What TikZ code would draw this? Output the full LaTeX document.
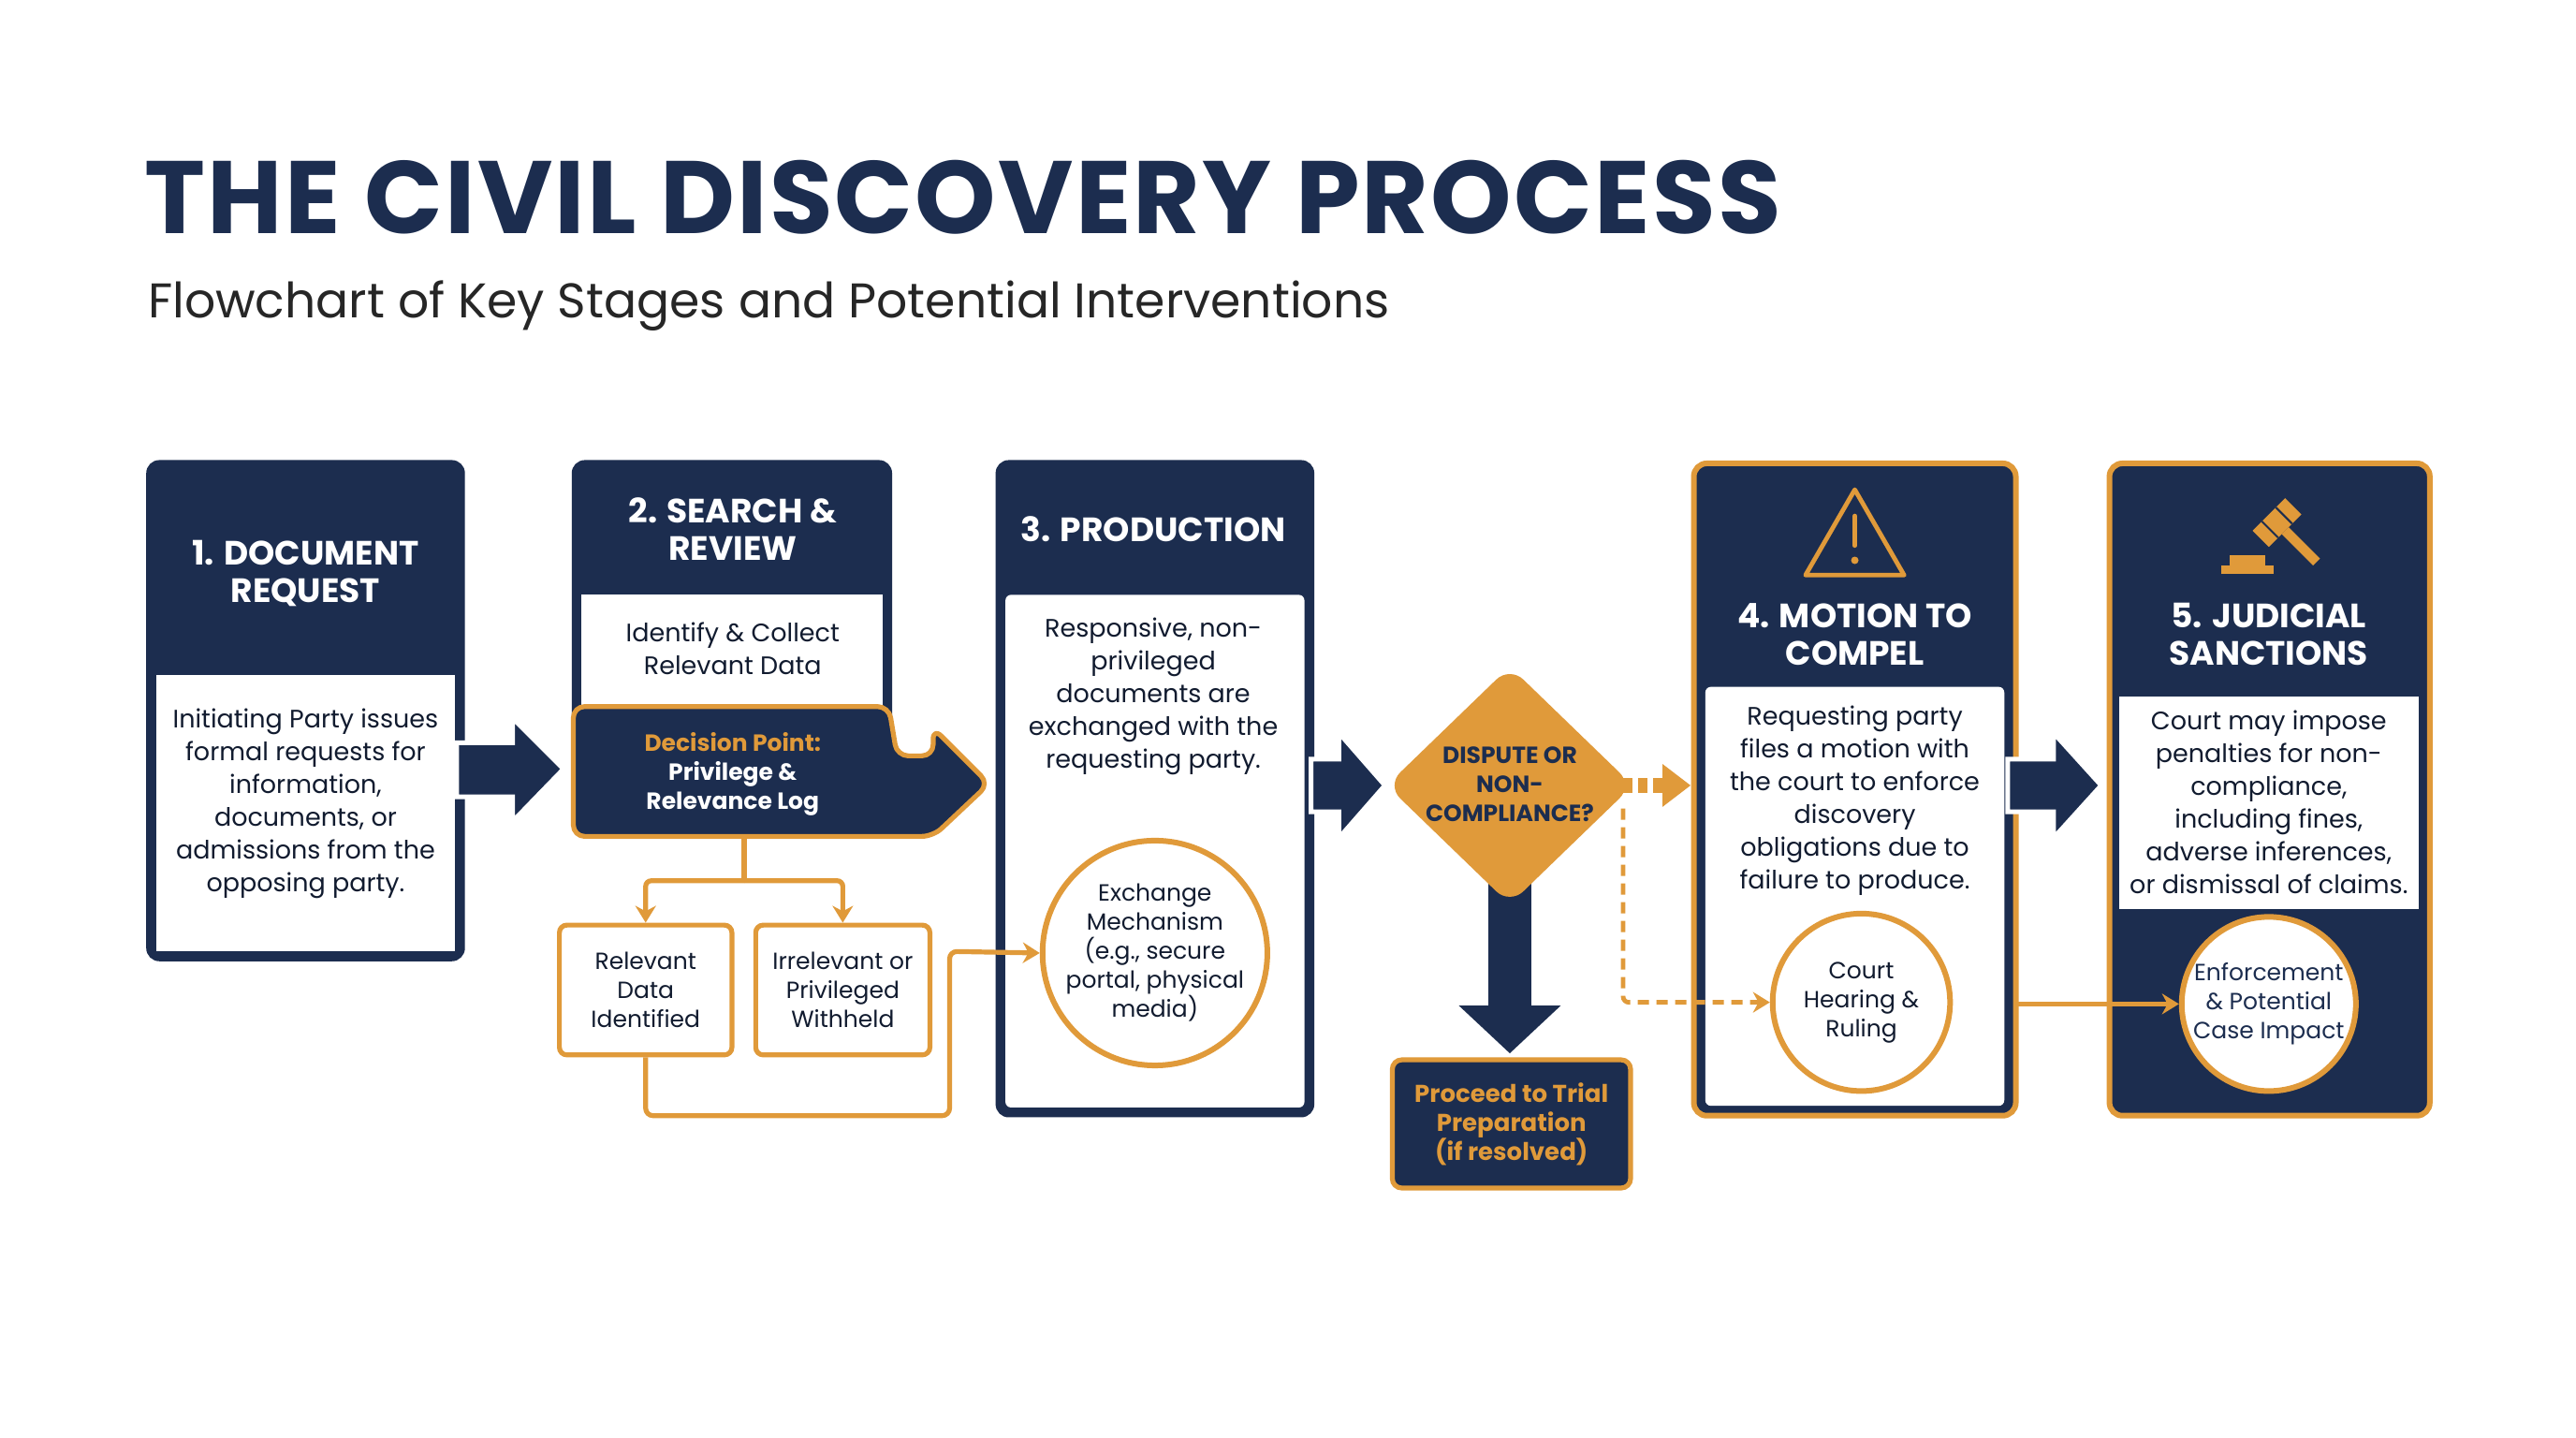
\documentclass[tikz,border=0pt]{standalone}
\usepackage{fontspec}
\setmainfont{Poppins}
\usetikzlibrary{arrows.meta,shapes.geometric}
\definecolor{navy}{HTML}{1C2D4F}
\definecolor{gold}{HTML}{E09A3A}
\begin{document}
\begin{tikzpicture}[x=0.8775pt,y=-0.8775pt,
  hdr/.style={text=white,font=\bfseries\fontsize{18}{20}\selectfont,align=center},
  body/.style={text=navy!60!black,font=\fontsize{13.5}{17.5}\selectfont,align=center},
  small/.style={text=navy!60!black,font=\fontsize{12.5}{15.5}\selectfont,align=center},
  navybox/.style={fill=navy,rounded corners=7pt},
  panel/.style={fill=white},
  circ/.style={circle,draw=gold,line width=3pt,fill=white,minimum size=#1,inner sep=0pt},
  oline/.style={draw=gold,line width=2.6pt},
  bigarrow/.style={fill=navy,draw=white,line width=2.5pt,line join=miter}]
\useasboundingbox (0,0) rectangle (1568,875);
\fill[white] (0,0) rectangle (1568,875);
% title
\node[anchor=west,text=navy,font=\bfseries\fontsize{55}{60}\addfontfeatures{LetterSpace=2}\selectfont] (title) at (84,120) {THE CIVIL DISCOVERY PROCESS};
\node[anchor=west,text=black!85,font=\fontsize{26}{30}\selectfont] (sub) at (86,186) {Flowchart of Key Stages and Potential Interventions};
% box 1
\fill[navybox] (89,280) rectangle (283,585);
\fill[panel] (95,411) rectangle (277,579);
\node[hdr] (h1) at (186,349) {1. DOCUMENT\\REQUEST};
\node[body] (b1) at (186,489) {Initiating Party issues\\formal requests for\\information,\\documents, or\\admissions from the\\opposing party.};
% arrow 1->2
\draw[bigarrow] (278,452) -- (312,452) -- (312,437) -- (343,468) -- (312,500) -- (312,485) -- (278,485) -- cycle;
% box 2
\fill[navybox] (348,280) rectangle (543,470);
\fill[panel] (354,362) rectangle (537,440);
\node[hdr] (h2) at (446,322) {2. SEARCH \&\\REVIEW};
\node[body] (b2) at (446,395) {Identify \& Collect\\Relevant Data};
\draw[fill=navy,draw=gold,line width=2.6pt,rounded corners=6pt,line join=round] (349,430) -- (541,430) -- (546,460) -- (568,460) -- (568,443) -- (602,477) -- (568,509) -- (349,509) -- cycle;
\node[align=center,font=\bfseries\fontsize{12.5}{15.5}\selectfont] (dp) at (446,471) {\textcolor{gold}{Decision Point:}\\\textcolor{white}{Privilege \&}\\\textcolor{white}{Relevance Log}};
\coordinate (dpb) at (453,509);
\node[draw=gold,line width=2.6pt,fill=white,rounded corners=4pt,minimum width=105*0.8775pt,minimum height=79*0.8775pt,small] (rel) at (393,602.5) {Relevant\\Data\\Identified};
\node[draw=gold,line width=2.6pt,fill=white,rounded corners=4pt,minimum width=106*0.8775pt,minimum height=79*0.8775pt,small] (irr) at (513,602.5) {Irrelevant or\\Privileged\\Withheld};
\draw[gold,line width=2.6pt] (dpb) -- (453,536);
\draw[gold,line width=2.6pt,rounded corners=3pt,-{Stealth[length=9pt,width=11pt]}] (453,536) -- (393,536) -- (rel.north);
\draw[gold,line width=2.6pt,rounded corners=3pt,-{Stealth[length=9pt,width=11pt]}] (453,536) -- (513,536) -- (irr.north);
% box 3
\fill[navybox] (606,280) rectangle (800,680);
\fill[panel,rounded corners=3pt] (612,362) rectangle (794,674);
\node[hdr] (h3) at (702,322) {3. PRODUCTION};
\node[body] (b3) at (702,424) {Responsive, non-\\privileged\\documents are\\exchanged with the\\requesting party.};
\node[circ=127*0.8775pt,small] (ex) at (703,580) {Exchange\\Mechanism\\(e.g., secure\\portal, physical\\media)};
\draw[gold,line width=2.6pt,rounded corners=4pt,-{Stealth[length=9pt,width=11pt]}] (rel.south) -- (393,679) -- (578,679) -- (578,579) -- (ex.west);
% arrow 3 -> diamond
\draw[bigarrow] (798,462) -- (815,462) -- (815,446) -- (843,478) -- (815,510) -- (815,494) -- (798,494) -- cycle;
% down arrow
\fill[navy] (906,530) -- (932,530) -- (932,612) -- (950,612) -- (919,641) -- (888,612) -- (906,612) -- cycle;
% diamond
\node[diamond,fill=gold,rounded corners=10pt,minimum width=150*0.8775pt,minimum height=145*0.8775pt,aspect=1,inner sep=0pt] (dia) at (919,478) {};
\node[align=center,text=navy,font=\bfseries\fontsize{12.5}{15.5}\selectfont] (diat) at (919,477) {DISPUTE OR\\NON-\\COMPLIANCE?};
\node[fill=navy,draw=gold,line width=2.6pt,rounded corners=5pt,minimum width=145*0.8775pt,minimum height=78*0.8775pt,align=center,text=gold,font=\bfseries\fontsize{13}{15.5}\selectfont] (trial) at (920,684) {Proceed to Trial\\Preparation\\(if resolved)};
% box 4
\draw[navybox,draw=gold,line width=3pt] (1031,282) rectangle (1227,679);
\fill[panel,rounded corners=3pt] (1038,418) rectangle (1220,673);
\node[hdr] (h4) at (1129,386) {4. MOTION TO\\COMPEL};
\node[body] (b4) at (1129,487) {Requesting party\\files a motion with\\the court to enforce\\discovery\\obligations due to\\failure to produce.};
\node[circ=108*0.8775pt,small] (court) at (1133,610) {Court\\Hearing \&\\Ruling};
% warning icon
\draw[gold,line width=2.4pt,line join=round] (1129,298) -- (1159,350) -- (1099,350) -- cycle;
\draw[gold,line width=2.4pt,line cap=round] (1129,314) -- (1129,332);
\fill[gold] (1129,341) circle (2pt);
% dashed arrows
\draw[gold,line width=8pt,dash pattern=on 5pt off 3pt] (988,478) -- (1014,478);
\fill[gold] (1012,465) -- (1029,478) -- (1012,491) -- cycle;
\draw[gold,line width=2.4pt,dash pattern=on 6pt off 4pt,rounded corners=3pt,-{Stealth[length=9pt,width=11pt]}] (988,492) -- (988,610) -- (court.west);
% arrow 4 -> 5
\draw[bigarrow] (1222,462) -- (1250,462) -- (1250,446) -- (1279,478) -- (1250,510) -- (1250,494) -- (1222,494) -- cycle;
% box 5
\draw[navybox,draw=gold,line width=3pt] (1284,282) rectangle (1479,679);
\fill[panel] (1290,424) rectangle (1472,553);
\node[hdr] (h5) at (1381,386) {5. JUDICIAL\\SANCTIONS};
\node[body] (b5) at (1381,488) {Court may impose\\penalties for non-\\compliance,\\including fines,\\adverse inferences,\\or dismissal of claims.};
\node[circ=106*0.8775pt,small,text=navy] (enf) at (1381,611) {Enforcement\\\& Potential\\Case Impact};
\draw[gold,line width=2.6pt,-{Stealth[length=9pt,width=11pt]}] (1227,611) -- (enf.west);
% gavel icon
\begin{scope}[shift={(1386,318)},rotate=45]
\fill[gold] (-14,-7) rectangle (14,7);
\draw[navy,line width=1pt] (-6,-7) -- (-6,7) (6,-7) -- (6,7);
\fill[gold] (-3,7) rectangle (3,34);
\end{scope}
\fill[gold] (1352,344) rectangle (1384,349);
\fill[gold] (1357,338) rectangle (1379,344);
\end{tikzpicture}
\end{document}
